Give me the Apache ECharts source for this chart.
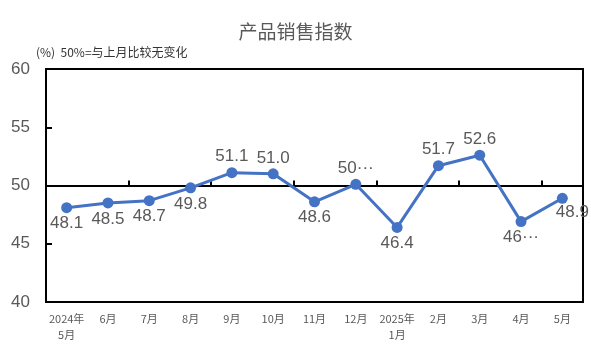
<!DOCTYPE html>
<html><head><meta charset="utf-8">
<script src="https://cdn.jsdelivr.net/npm/echarts@6/dist/echarts.min.js"></script>
<style>html,body{margin:0;padding:0;background:#fff}#c{width:591px;height:354px}</style>
</head><body><div id="c"></div>
<script>
const categories = ['2024年\n5月','6月','7月','8月','9月','10月','11月','12月','2025年\n1月','2月','3月','4月','5月'];
const values = [48.1, 48.5, 48.7, 49.8, 51.1, 51.0, 48.6, 50.1, 46.4, 51.7, 52.6, 46.9, 48.9];
const shownLabels = ['48.1','48.5','48.7','49.8','51.1','51.0','48.6','50···','46.4','51.7','52.6','46···','48.9'];
const yTicks = [40, 45, 50, 55, 60];

const FONT = '"Noto Sans CJK SC", sans-serif';
const NUMFONT = '"Liberation Sans", "Noto Sans", sans-serif';
const below = new Set([0,1,2,3,6,8,11,12]);
const chart = echarts.init(document.getElementById('c'), null, {renderer:'canvas'});
const gridTop = 69, gridBottom = 52, H = 354;
const gridH = H - gridTop - gridBottom;
chart.setOption({
  animation: false,
  textStyle: {fontFamily: FONT},
  title: [
    {text: '产品销售指数', left: 'center', top: 17, textStyle: {fontSize: 19, fontWeight: 'normal', color: '#595959', fontFamily: FONT}},
    {text: '(%)  50%=与上月比较无变化', left: 31, top: 41, textStyle: {fontSize: 12, fontWeight: 'normal', color: '#333', fontFamily: FONT}}
  ],
  grid: {left: 46, right: 8, top: gridTop, bottom: gridBottom, show: true, borderColor: '#000', borderWidth: 2, containLabel: false},
  xAxis: [
    {type: 'category', data: categories, position: 'bottom', axisLine: {show: false}, axisTick: {show: false},
     axisLabel: {color: '#595959', fontSize: 11, margin: 9, lineHeight: 16, interval: 0, fontFamily: FONT}},
    {type: 'category', data: categories, position: 'top', offset: -gridH / 2,
     axisLine: {show: true, lineStyle: {color: '#000', width: 2}},
     axisTick: {show: true, inside: false, length: 5, lineStyle: {color: '#000', width: 2}},
     axisLabel: {show: false}}
  ],
  yAxis: {type: 'value', min: yTicks[0], max: yTicks[yTicks.length-1], interval: 5,
    axisLine: {show: true, lineStyle: {color: '#000', width: 2}},
    axisTick: {show: true, inside: true, length: 6, lineStyle: {color: '#000', width: 2}},
    splitLine: {show: false},
    axisLabel: {color: '#595959', fontSize: 17, margin: 16, fontFamily: NUMFONT}},
  series: [{
    type: 'line', xAxisIndex: 0,
    data: values.map((v, i) => ({value: v, label: {
      position: below.has(i) ? 'bottom' : 'top',
      offset: i === 12 ? [10, -2] : [0, 0],
      formatter: shownLabels[i]
    }})),
    symbol: 'circle', symbolSize: 11,
    lineStyle: {color: '#4472C4', width: 3},
    itemStyle: {color: '#4472C4'},
    label: {show: true, fontSize: 17, color: '#595959', distance: 2, fontFamily: NUMFONT}
  }]
});
</script></body></html>
